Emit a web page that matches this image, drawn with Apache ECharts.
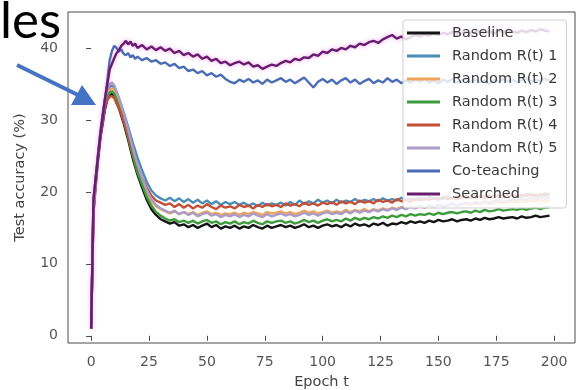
<!DOCTYPE html>
<html>
<head>
<meta charset="utf-8">
<script src="https://cdn.jsdelivr.net/npm/echarts@6/dist/echarts.min.js"></script>
<style>
  html, body { margin: 0; padding: 0; background: #fff; }
  #chart { width: 577px; height: 390px; }
</style>
</head>
<body>
<div id="chart"></div>
<script>
// epochs sampled (every epoch up to 20, then every 2)
const epochs = [0, 1, 2, 3, 4, 5, 6, 7, 8, 9, 10, 11, 12, 13, 14, 15, 16, 17, 18, 19, 20,
  22, 24, 26, 28, 30, 32, 34, 36, 38, 40,
  42, 44, 46, 48, 50, 52, 54, 56, 58, 60,
  62, 64, 66, 68, 70, 72, 74, 76, 78, 80,
  82, 84, 86, 88, 90, 92, 94, 96, 98, 100,
  102, 104, 106, 108, 110, 112, 114, 116, 118, 120,
  122, 124, 126, 128, 130, 132, 134, 136, 138, 140,
  142, 144, 146, 148, 150, 152, 154, 156, 158, 160,
  162, 164, 166, 168, 170, 172, 174, 176, 178, 180,
  182, 184, 186, 188, 190, 192, 194, 196, 198];

const xTicks = [0, 25, 50, 75, 100, 125, 150, 175, 200];
const yTicks = [0, 10, 20, 30, 40];

const seriesNames = ['Baseline', 'Random R(t) 1', 'Random R(t) 2', 'Random R(t) 3',
  'Random R(t) 4', 'Random R(t) 5', 'Co-teaching', 'Searched'];
const seriesColors = ['#141414', '#4b8db5', '#f0a45a', '#3c9c3c',
  '#c44e36', '#a99cc9', '#4a6db5', '#6a1c6e'];

const baseline = [1, 17, 21, 24.5, 27.5, 29.5, 31.5, 32.8, 33.4, 33.6, 33.2, 32.4, 31.6, 30.6, 29.6, 28.4, 27.2, 25.9, 24.6, 23.5, 22.4,
  20.6, 18.9, 17.6, 16.8, 16.2, 15.9, 15.6, 15.8, 15.3, 15.5,
  15.1, 15.4, 15.0, 15.3, 15.6, 15.1, 15.4, 14.9, 15.2, 15.0,
  15.3, 14.9, 15.2, 15.0, 15.4, 15.1, 14.9, 15.3, 15.0, 15.2,
  15.4, 15.1, 15.3, 15.0, 15.2, 15.5, 15.1, 15.3, 15.0, 15.3,
  15.5, 15.2, 15.4, 15.1, 15.5, 15.2, 15.6, 15.3, 15.5, 15.2,
  15.6, 15.4, 15.7, 15.3, 15.6, 15.5, 15.8, 15.6, 15.9, 15.7,
  15.9, 15.7, 16.0, 15.8, 16.1, 15.9, 16.0, 16.2, 15.9, 16.1,
  16.2, 16.0, 16.3, 16.1, 16.4, 16.2, 16.3, 16.5, 16.3, 16.4,
  16.5, 16.3, 16.6, 16.4, 16.5, 16.7, 16.5, 16.6, 16.7];

const random1 = [1, 18, 22, 25.3, 28.3, 30.7, 32.6, 33.9, 34.6, 34.8, 34.5, 33.8, 33.0, 32.1, 31.1, 30.1, 29.0, 27.9, 26.8, 25.8, 24.8,
  23.0, 21.4, 20.2, 19.5, 19.1, 18.8, 19.2, 18.7, 19.1, 18.6,
  19.0, 18.5, 18.9, 18.4, 18.8, 18.3, 18.7, 18.2, 18.6, 18.3,
  18.6, 18.2, 18.5, 18.1, 18.4, 18.0, 18.5, 18.1, 18.4, 18.2,
  18.5, 18.1, 18.6, 18.2, 18.8, 18.3, 18.7, 18.4, 18.9, 18.5,
  18.8, 18.4, 18.9, 18.5, 18.8, 18.6, 19.0, 18.6, 18.9, 18.7,
  19.0, 18.7, 19.1, 18.8, 19.0, 18.8, 19.2, 18.9, 19.1, 18.9,
  19.2, 18.9, 19.3, 19.0, 19.2, 19.0, 19.4, 19.1, 19.3, 19.1,
  19.4, 19.1, 19.5, 19.2, 19.4, 19.2, 19.6, 19.3, 19.5, 19.3,
  19.6, 19.3, 19.6, 19.4, 19.7, 19.4, 19.7, 19.5, 19.8];

const random2 = [1, 17.5, 21.5, 25, 28, 30.2, 32.2, 33.5, 34.2, 34.4, 34.0, 33.2, 32.3, 31.3, 30.3, 29.1, 27.9, 26.6, 25.4, 24.3, 23.2,
  21.5, 19.9, 18.7, 18.0, 17.6, 17.3, 17.0, 17.3, 16.9, 17.2,
  16.9, 17.2, 16.8, 17.1, 17.3, 16.9, 17.1, 16.8, 17.0, 16.9,
  17.1, 16.8, 17.1, 16.9, 17.2, 17.0, 16.8, 17.2, 17.0, 17.1,
  17.3, 17.0, 17.2, 16.9, 17.1, 17.4, 17.1, 17.3, 17.0, 17.2,
  17.4, 17.1, 17.3, 17.1, 17.5, 17.2, 17.5, 17.3, 17.6, 17.3,
  17.6, 17.4, 17.7, 17.5, 17.8, 17.6, 17.9, 17.7, 18.0, 17.8,
  18.0, 17.8, 18.1, 17.9, 18.2, 18.0, 18.1, 18.3, 18.1, 18.3,
  18.4, 18.2, 18.4, 18.3, 18.5, 18.3, 18.5, 18.6, 18.4, 18.6,
  18.7, 18.5, 18.7, 18.6, 18.8, 18.7, 18.9, 18.7, 18.9];

const random3 = [1, 17.5, 21.5, 25, 28, 30, 32, 33.2, 33.8, 34.0, 33.6, 32.8, 31.9, 30.9, 29.9, 28.7, 27.5, 26.2, 25.0, 23.8, 22.7,
  21.0, 19.3, 18.1, 17.2, 16.7, 16.3, 16.0, 16.2, 15.8, 16.0,
  15.7, 16.0, 15.6, 15.9, 16.1, 15.7, 15.9, 15.5, 15.8, 15.6,
  15.9, 15.5, 15.8, 15.6, 16.0, 15.7, 15.5, 15.9, 15.7, 15.9,
  16.0, 15.7, 15.9, 15.6, 15.8, 16.1, 15.8, 16.0, 15.7, 16.0,
  16.2, 15.9, 16.1, 15.9, 16.3, 16.0, 16.4, 16.1, 16.4, 16.2,
  16.5, 16.3, 16.6, 16.4, 16.7, 16.5, 16.8, 16.6, 16.9, 16.7,
  16.9, 16.8, 17.0, 16.8, 17.1, 16.9, 17.1, 17.2, 17.0, 17.2,
  17.3, 17.1, 17.4, 17.2, 17.5, 17.3, 17.4, 17.6, 17.4, 17.5,
  17.6, 17.5, 17.7, 17.5, 17.7, 17.8, 17.6, 17.8, 17.9];

const random4 = [1, 17.5, 21.5, 25, 28, 30, 31.8, 32.8, 33.2, 33.3, 33.0, 32.3, 31.6, 30.8, 29.9, 28.9, 27.8, 26.7, 25.6, 24.6, 23.6,
  22.0, 20.6, 19.5, 18.8, 18.5, 18.2, 18.4, 17.9, 18.3, 17.8,
  18.2, 17.7, 18.1, 17.8, 18.3, 17.9, 17.6, 18.1, 17.8, 18.0,
  17.7, 18.2, 17.9, 18.1, 17.7, 18.2, 17.9, 18.3, 18.0, 18.2,
  17.9, 18.4, 18.1, 18.3, 18.0, 18.5, 18.2, 18.4, 18.1, 18.5,
  18.3, 18.6, 18.2, 18.7, 18.4, 18.6, 18.3, 18.8, 18.5, 18.7,
  18.4, 18.9, 18.6, 18.8, 18.5, 19.0, 18.7, 18.9, 18.6, 19.0,
  18.8, 19.1, 18.9, 19.2, 18.9, 19.3, 19.0, 19.2, 19.0, 19.3,
  19.1, 19.4, 19.2, 19.4, 19.1, 19.5, 19.3, 19.5, 19.2, 19.6,
  19.4, 19.6, 19.3, 19.7, 19.5, 19.6, 19.4, 19.8, 19.6];

const random5 = [1, 18, 22, 25.5, 28.5, 31, 33, 34.3, 35.0, 35.2, 34.8, 34.0, 33.1, 32.1, 31.0, 29.8, 28.6, 27.3, 26.1, 24.9, 23.8,
  22.0, 20.3, 19.0, 18.2, 17.7, 17.4, 17.1, 17.4, 16.9, 17.2,
  16.8, 17.1, 16.6, 16.9, 17.1, 16.7, 16.9, 16.5, 16.8, 16.6,
  16.9, 16.5, 16.8, 16.6, 17.0, 16.7, 16.5, 16.9, 16.6, 16.8,
  17.0, 16.7, 16.9, 16.6, 16.8, 17.1, 16.8, 17.0, 16.7, 17.0,
  17.2, 16.9, 17.1, 16.9, 17.3, 17.0, 17.4, 17.1, 17.4, 17.2,
  17.5, 17.3, 17.6, 17.4, 17.7, 17.5, 17.8, 17.6, 17.9, 17.7,
  18.0, 17.8, 18.1, 17.9, 18.2, 18.0, 18.2, 18.4, 18.1, 18.3,
  18.5, 18.3, 18.6, 18.4, 18.7, 18.5, 18.7, 18.9, 18.6, 18.8,
  19.0, 18.8, 19.1, 18.9, 19.2, 19.0, 19.3, 19.1, 19.3];

const coTeaching = [1, 19, 22, 25, 28, 30.5, 33, 35.5, 38.3, 39.6, 40.3, 40.0, 39.5, 39.8, 39.2, 39.0, 39.3, 38.7, 39.0, 38.5, 38.8,
  38.3, 38.6, 38.1, 38.3, 37.8, 38.0, 37.5, 37.8, 37.2, 37.4,
  36.8, 37.0, 36.5, 36.8, 36.2, 36.5, 36.0, 36.3, 35.7, 35.3,
  35.1, 35.6, 35.3, 35.7, 35.2, 35.5, 35.0, 35.6, 35.2, 35.5,
  35.8, 35.3, 35.6, 35.1, 35.5, 35.9, 35.2, 34.5, 35.3, 35.7,
  35.2, 35.6, 35.0, 35.5, 35.8, 35.2, 35.6, 35.0, 35.4, 35.7,
  35.1, 35.5, 35.2, 35.8, 35.3, 35.6, 35.1, 35.5, 35.2, 35.6,
  35.3, 35.7, 35.2, 35.5, 35.1, 35.6, 35.3, 35.7, 35.2, 35.5,
  35.8, 35.3, 35.6, 35.2, 35.5, 35.0, 35.6, 35.3, 35.7, 35.4,
  35.6, 35.2, 35.5, 35.8, 35.3, 35.6, 35.4, 35.7, 35.5];

const searched = [1, 19, 22, 25, 28, 30.5, 33, 35, 37, 37.8, 38.6, 39.3, 39.7, 40.3, 40.6, 41.0, 40.5, 40.9, 40.3, 40.6, 40.0,
  40.4, 39.8, 40.2, 39.7, 40.1, 39.6, 39.9, 39.3, 39.6, 39.0,
  39.3, 38.8, 39.1, 38.5, 38.8, 38.2, 38.5, 37.9, 38.1, 37.6,
  37.9, 38.1, 37.7, 38.0, 37.4, 37.6, 37.1, 37.4, 37.7, 37.5,
  37.9, 38.2, 38.0, 38.5, 38.3, 38.7, 38.6, 39.1, 38.9, 39.5,
  39.3, 39.8, 39.6, 40.0, 39.8, 40.3, 40.1, 40.6, 40.4, 40.8,
  41.0, 40.7, 41.2, 41.5, 41.8, 41.3, 41.6, 41.2, 41.5, 41.8,
  41.6, 41.9, 41.7, 42.0, 41.8, 42.1, 41.9, 42.2, 42.0, 42.1,
  42.3, 42.0, 42.2, 42.4, 42.1, 42.3, 42.0, 42.4, 42.2, 42.5,
  42.3, 42.1, 42.4, 42.2, 42.5, 42.3, 42.6, 42.4, 42.3];

const allValues = [baseline, random1, random2, random3, random4, random5, coTeaching, searched];

const chart = echarts.init(document.getElementById('chart'));
const fontFamily = 'DejaVu Sans';

const series = seriesNames.map((name, k) => ({
  name: name,
  type: 'line',
  data: epochs.map((e, i) => [e, allValues[k][i]]),
  showSymbol: false,
  symbol: 'none',
  lineStyle: {
    width: 2.4,
    color: seriesColors[k],
    // the purple curve has a pinkish glow in the picture
    shadowColor: name === 'Searched' ? 'rgba(225,60,225,0.45)' : 'transparent',
    shadowBlur: name === 'Searched' ? 4 : 0
  },
  itemStyle: { color: seriesColors[k] },
  z: 2
}));

const option = {
  animation: false,
  backgroundColor: '#fff',
  textStyle: { fontFamily: fontFamily },
  grid: {
    left: 68, right: 2, top: 12, bottom: 47,
    outerBoundsMode: 'none',
    show: true,
    borderColor: '#4a4a4a',
    borderWidth: 1,
    backgroundColor: '#fff'
  },
  legend: {
    orient: 'vertical',
    left: 403,
    top: 20,
    z: 50,
    padding: [5, 9, 6, 4],
    itemGap: 7,
    itemWidth: 33,
    itemHeight: 3,
    icon: 'rect',
    selectedMode: false,
    backgroundColor: 'rgba(255,255,255,0.82)',
    borderColor: '#cfcfcf',
    borderWidth: 1,
    borderRadius: 3,
    textStyle: {
      fontFamily: fontFamily,
      fontSize: 14.5,
      lineHeight: 16,
      color: '#3a3a3a',
      padding: [0, 0, 0, 7]
    },
    data: seriesNames
  },
  xAxis: {
    type: 'value',
    min: -10,
    max: 209,
    name: 'Epoch t',
    nameLocation: 'middle',
    nameGap: 32,
    nameTextStyle: { fontFamily: fontFamily, fontSize: 14.5, color: '#444' },
    axisLine: { show: false },
    splitLine: { show: false },
    axisTick: { show: true, length: 5, lineStyle: { color: '#4a4a4a' }, customValues: xTicks },
    axisLabel: { fontSize: 14, color: '#555', margin: 12, customValues: xTicks }
  },
  yAxis: {
    type: 'value',
    min: -1,
    max: 45,
    name: 'Test accuracy (%)',
    nameLocation: 'middle',
    nameGap: 40,
    nameTextStyle: { fontFamily: fontFamily, fontSize: 14.5, color: '#444' },
    axisLine: { show: false },
    splitLine: { show: false },
    axisTick: { show: true, length: 5, lineStyle: { color: '#4a4a4a' }, customValues: yTicks },
    axisLabel: { fontSize: 14, color: '#555', margin: 10, customValues: yTicks }
  },
  series: series,
  // slide leftovers: end of a title word and a blue arrow pointing at the curves
  graphic: [
    {
      type: 'text',
      left: 0,
      top: -4,
      z: 100,
      style: { text: 'les', fontFamily: 'Lato', fontSize: 51, fill: '#000' }
    },
    {
      type: 'line',
      z: 100,
      shape: { x1: 17, y1: 65, x2: 78, y2: 95 },
      style: { stroke: '#4472c4', lineWidth: 4 }
    },
    {
      type: 'polygon',
      z: 100,
      shape: { points: [[71, 105], [82, 85], [96, 105]] },
      style: { fill: '#4472c4' }
    }
  ]
};

chart.setOption(option);
</script>
</body>
</html>
